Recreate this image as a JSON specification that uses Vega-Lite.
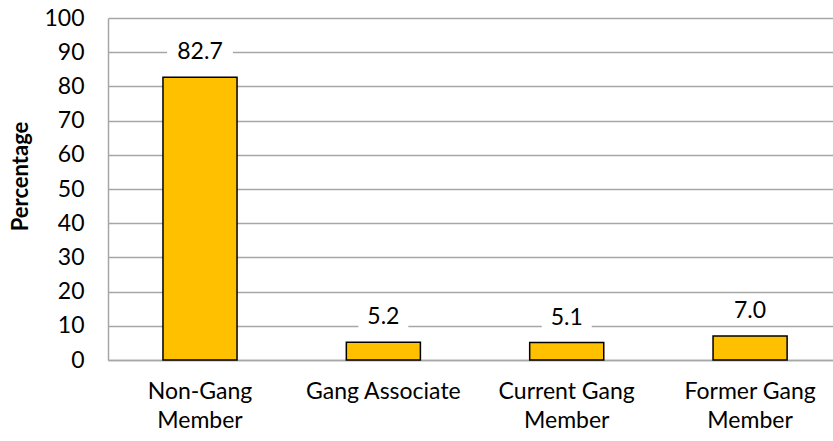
{
  "$schema": "https://vega.github.io/schema/vega-lite/v6.json",
  "width": 725,
  "height": 342,
  "autosize": {"type": "none"},
  "padding": {"left": 108, "top": 18, "right": 0, "bottom": 81},
  "background": "white",
  "config": {
    "view": {"stroke": null},
    "font": "Lato"
  },
  "data": {
    "values": [
      {"Group": "Non-Gang Member", "Percentage": 82.7},
      {"Group": "Gang Associate", "Percentage": 5.2},
      {"Group": "Current Gang Member", "Percentage": 5.1},
      {"Group": "Former Gang Member", "Percentage": 7.0}
    ]
  },
  "encoding": {
    "x": {
      "field": "Group",
      "type": "nominal",
      "sort": null,
      "scale": {"paddingInner": 0.596, "paddingOuter": 0.275, "align": 0.545},
      "axis": {
        "title": null,
        "labelAngle": 0,
        "labelFont": "Lato",
        "labelFontSize": 23,
        "labelColor": "#000000",
        "labelPadding": 20,
        "labelLineHeight": 29,
        "ticks": false,
        "domainColor": "#A6A6A6",
        "domainWidth": 1.5,
        "labelExpr": "indexof(datum.label,' Member')>0 ? [replace(datum.label,' Member',''), 'Member'] : datum.label"
      }
    },
    "y": {
      "field": "Percentage",
      "type": "quantitative",
      "scale": {"domain": [0, 100], "nice": false},
      "axis": {
        "title": "Percentage",
        "titleFont": "Lato",
        "titleFontSize": 22,
        "titleFontWeight": "bold",
        "titleColor": "#000000",
        "titlePadding": 11,
        "titleY": 158,
        "values": [0, 10, 20, 30, 40, 50, 60, 70, 80, 90, 100],
        "labelFont": "Lato",
        "labelFontSize": 23,
        "labelColor": "#000000",
        "labelPadding": 24,
        "ticks": false,
        "domainColor": "#A6A6A6",
        "domainWidth": 1.5,
        "grid": true,
        "gridColor": "#A6A6A6",
        "gridWidth": 1.5
      }
    }
  },
  "layer": [
    {
      "mark": {"type": "bar", "color": "#FFC000", "stroke": "#000000", "strokeWidth": 1.5}
    },
    {
      "mark": {
        "type": "point",
        "shape": "M-1,-0.4H1V0.4H-1Z",
        "filled": true,
        "color": "white",
        "opacity": 1,
        "yOffset": -24
      },
      "encoding": {
        "size": {"condition": {"test": "datum.Percentage >= 10", "value": 4356}, "value": 2500}
      }
    },
    {
      "mark": {
        "type": "text",
        "font": "Lato",
        "fontSize": 23,
        "color": "#000000",
        "baseline": "middle",
        "dy": -25
      },
      "encoding": {
        "text": {"field": "Percentage", "type": "quantitative", "format": ".1f"}
      }
    }
  ]
}
